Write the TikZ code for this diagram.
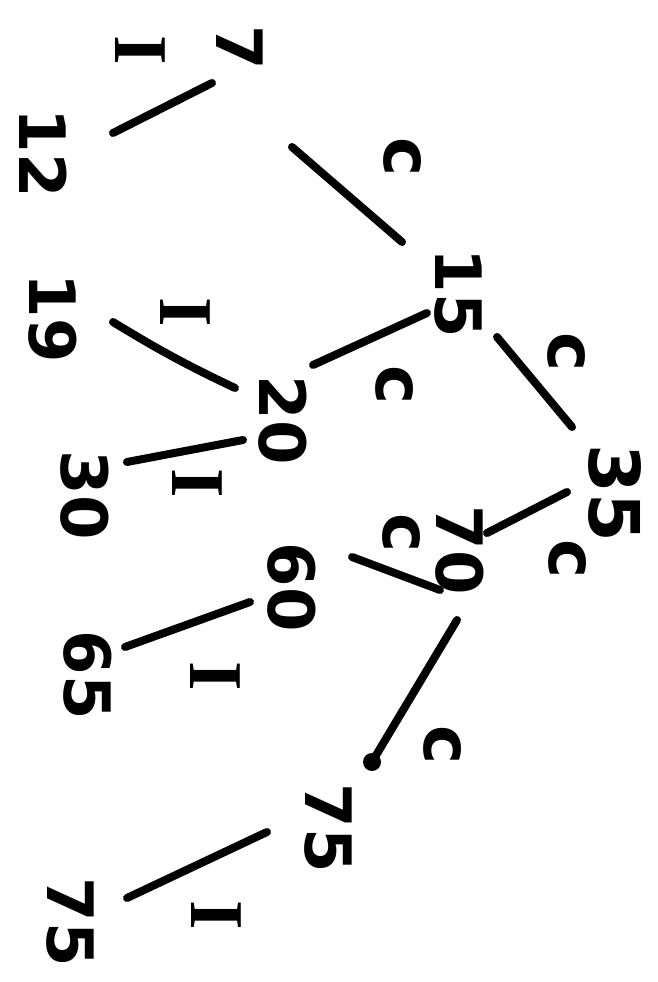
\documentclass[tikz,border=0pt]{standalone}
\usepackage{fontspec}
\setmainfont{DejaVu Sans}
\newfontfamily\labfont{Liberation Serif}
\usetikzlibrary{calc}
\begin{document}
\begin{tikzpicture}[x=1pt,y=-1pt,
  num/.style={inner sep=0pt, rotate=-90, font=\fontsize{64}{64}\selectfont\bfseries},
  big/.style={num, font=\fontsize{70}{70}\selectfont\bfseries},
  lab/.style={inner sep=0pt, rotate=-90, font=\fontsize{66}{66}\selectfont\bfseries},
  labI/.style={inner sep=0pt, rotate=-90, font=\labfont\fontsize{76}{76}\selectfont\bfseries},
  edge/.style={line width=8pt, line cap=round},
  blob/.style={fill=black, circle, inner sep=0pt, minimum size=18pt}]
\useasboundingbox (0,0) rectangle (658,982);
% nodes
\node[num] (n7) at (240,48) {7};
\node[num] (n12) at (43,153) {12};
\node[num] (n15) at (458,293) {15};
\node[num] (n19) at (53,318) {19};
\node[num] (n20) at (283,420) {20};
\node[num] (n30) at (85,495) {30};
\node[big] (n35) at (615,493) {35};
\node[num] (n70) at (460,550) {70};
\node[num] (n60) at (292,587) {60};
\node[num] (n65) at (88,675) {65};
\node[num] (n75a) at (328,828) {75};
\node[num] (n75b) at (70,922) {75};
% edge labels
\node[labI] (l1) at (140,50) {I};
\node[lab] (l2) at (403,157) {c};
\node[labI] (l3) at (185,312) {I};
\node[lab] (l4) at (395,385) {c};
\node[lab] (l5) at (567,352) {c};
\node[labI] (l6) at (197,483) {I};
\node[lab] (l7) at (402,533) {c};
\node[lab] (l8) at (568,559) {c};
\node[labI] (l9) at (215,676) {I};
\node[lab] (l10) at (443,745) {c};
\node[labI] (l11) at (216,915) {I};
% edges
\draw[edge] ($(n7)+(-28,35)$) -- ($(n12)+(70,-20)$);
\draw[edge] ($(n7)+(52,99)$) -- ($(n15)+(-56,-51)$);
\draw[edge] ($(n15)+(-31,20)$) -- ($(n20)+(30,-55)$);
\draw[edge] ($(n15)+(39,44)$) -- ($(n35)+(-43,-66)$);
\draw[edge] ($(n20)+(-48,-32)$) to[bend left=3] ($(n19)+(60,4)$);
\draw[edge] ($(n20)+(-40,20)$) -- ($(n30)+(42,-33)$);
\draw[edge] ($(n35)+(-48,-1)$) -- ($(n70)+(27,-17)$);
\draw[edge] ($(n70)+(-20,40)$) -- ($(n60)+(60,-30)$);
\draw[edge] ($(n70)+(-3,70)$) -- ($(n75a)+(44,-66)$) node[blob] (d1) {};
\draw[edge] ($(n60)+(-42,15)$) -- ($(n65)+(37,-28)$);
\draw[edge] ($(n75a)+(-61,4)$) -- ($(n75b)+(57,-24)$);
\end{tikzpicture}
\end{document}
